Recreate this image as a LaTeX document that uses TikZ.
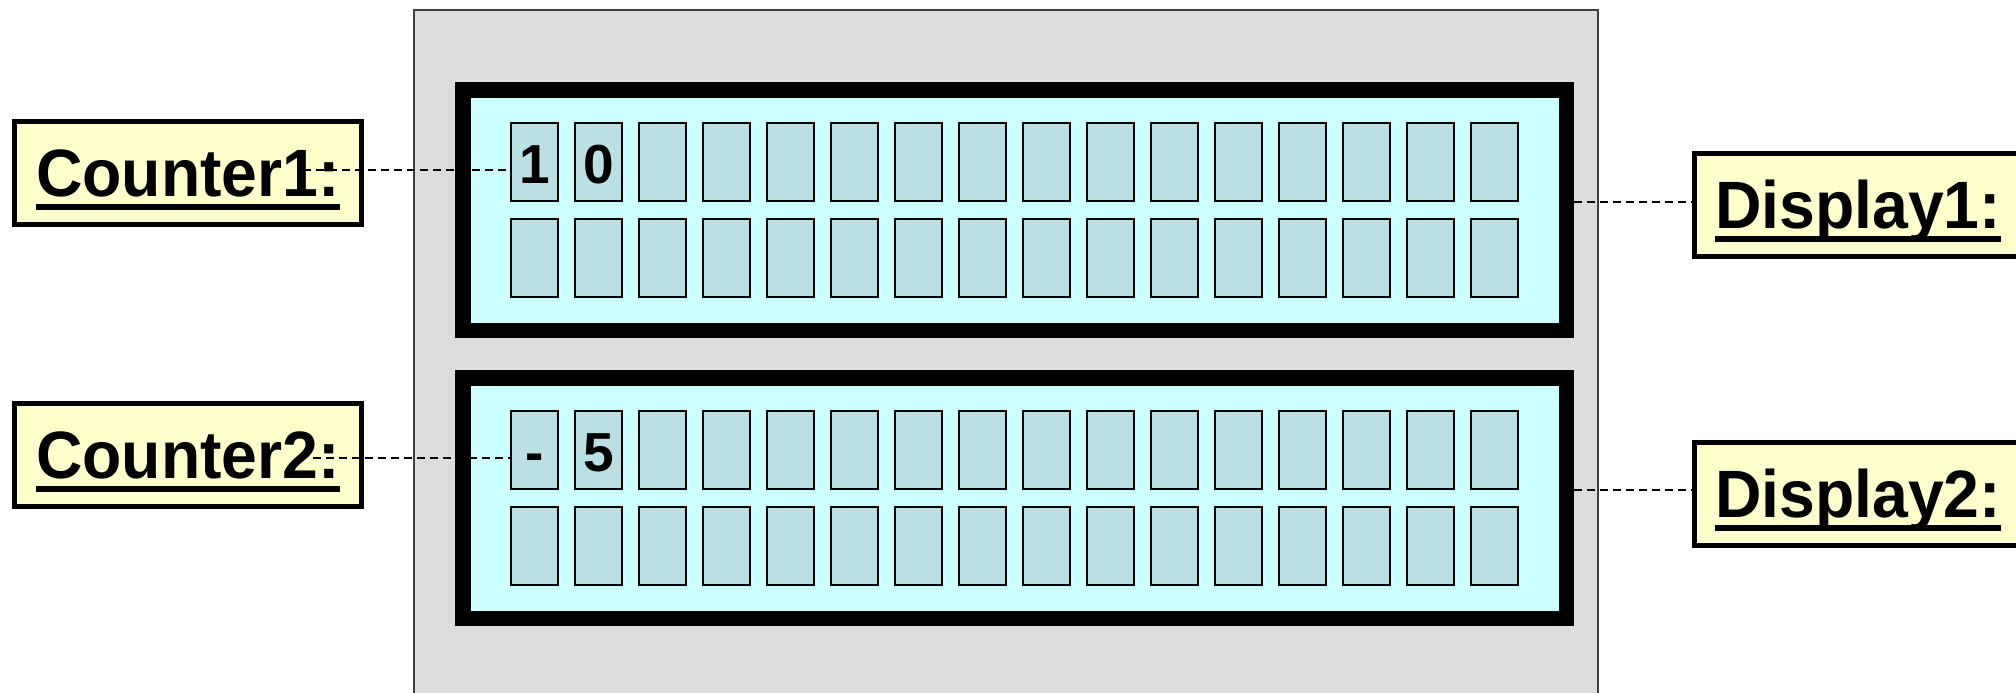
\documentclass[tikz,border=0pt]{standalone}
\usepackage{fontspec}
\newfontfamily\labfont[FakeStretch=0.96]{Liberation Sans}
\newfontfamily\digfont{Liberation Sans}
\definecolor{panelgray}{RGB}{220,220,220}
\definecolor{lcdcyan}{RGB}{204,255,255}
\definecolor{cellteal}{RGB}{187,224,227}
\definecolor{labyellow}{RGB}{255,255,204}
\newcommand\ulbox[1]{\setbox0\hbox{#1}\rlap{\rule[-13.5pt]{\wd0}{6pt}}\box0}
\begin{document}
\begin{tikzpicture}[x=1pt,y=-1pt,
  labelbox/.style={draw=black, line width=5pt, fill=labyellow, inner sep=0pt,
    minimum width=347pt, minimum height=103pt, text height=68pt, text depth=21pt,
    font=\labfont\bfseries\fontsize{67pt}{80pt}\selectfont},
  lcdframe/.style={draw=black, line width=15.5pt, fill=lcdcyan, inner sep=0pt,
    minimum width=1103.5pt, minimum height=240.5pt},
  cellbox/.style={draw=black, line width=2pt, fill=cellteal, inner sep=0pt,
    minimum width=47pt, minimum height=78pt},
  digit/.style={anchor=base, inner sep=0pt,
    font=\digfont\bfseries\fontsize{55pt}{60pt}\selectfont},
  conn/.style={draw=black, line width=2pt, dash pattern=on 8pt off 5pt}]
\useasboundingbox (0,0) rectangle (2016,693);
% panel
\draw[fill=panelgray, draw=black!75, line width=1.5pt] (414,10) rectangle (1598,720);
% LCDs
\node[lcdframe] (lcd1) at (1014.5,210) {};
\node[lcdframe] (lcd2) at (1014.5,498) {};
\foreach \i in {0,...,15} {
  \node[cellbox] (uA\i) at ({534.5+64*\i},162) {};
  \node[cellbox] (uB\i) at ({534.5+64*\i},258) {};
  \node[cellbox] (lA\i) at ({534.5+64*\i},450) {};
  \node[cellbox] (lB\i) at ({534.5+64*\i},546) {};
}
% digits
\node[digit] (dg1) at (534.5,183) {1};
\node[digit] (dg2) at (598.5,183) {0};
\node[digit] (dg3) at (534.5,471) {-};
\node[digit] (dg4) at (598.5,471) {5};
% labels
\node[labelbox] (cnt1) at (188,173) {\ulbox{Counter1:}};
\node[labelbox] (cnt2) at (188,455) {\ulbox{Counter2:}};
\node[labelbox, minimum width=327pt] (dsp1) at (1858,204.5) {\ulbox{Display1:}};
\node[labelbox, minimum width=327pt] (dsp2) at (1858,493.5) {\ulbox{Display2:}};
% connectors
\coordinate (c1s) at (303,170);
\coordinate (c2s) at (313,458);
\coordinate (e1) at (1692,202);
\coordinate (e2) at (1692,490);
\draw[conn] (c1s) -- (c1s -| uA0.west);
\draw[conn] (c2s) -- (c2s -| lA0.west);
\draw[conn] (lcd1.east |- e1) -- (e1);
\draw[conn] (lcd2.east |- e2) -- (e2);
\end{tikzpicture}
\end{document}
